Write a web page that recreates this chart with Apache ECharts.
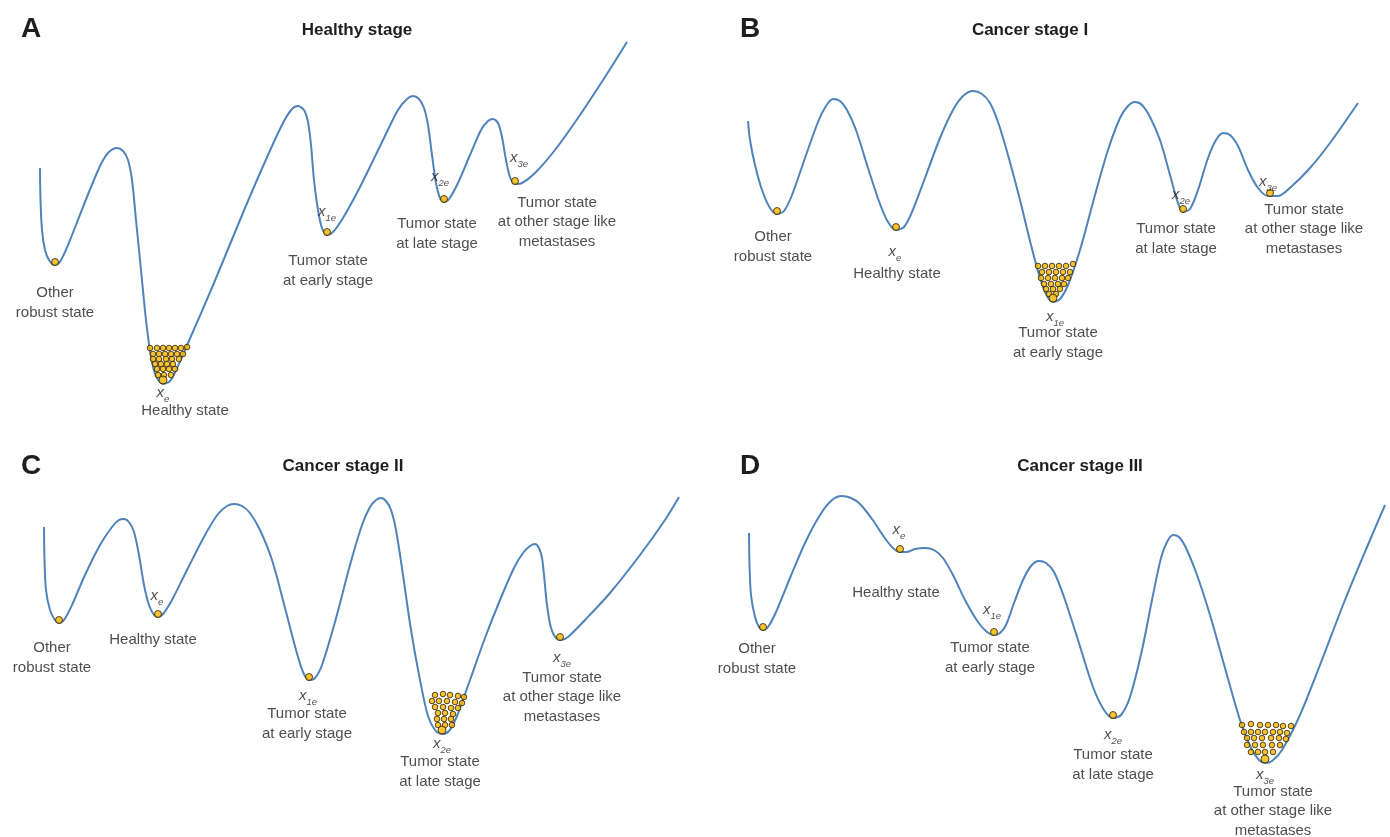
<!DOCTYPE html>
<html>
<head>
<meta charset="utf-8">
<title>Potential landscape across cancer stages</title>
<script src="https://cdn.jsdelivr.net/npm/echarts@6/dist/echarts.min.js"></script>
<style>
  html, body { margin: 0; padding: 0; background: #fff; }
  #chart { width: 1390px; height: 837px; }
</style>
</head>
<body>
<div id="chart"></div>
<script>
// Panel letters and stage titles
const panelLetters = ['A', 'B', 'C', 'D'];
const stageTitles = ['Healthy stage', 'Cancer stage I', 'Cancer stage II', 'Cancer stage III'];

// Landscape profiles per panel: [state position, depth] (depth grows downward)
const landscapeA = [[40,168],[40.5,200],[42,230],[45,250],[49,260],[54,265],[59,263],[65,252],[76,225],[89,192],[101,164],[109,152],[117,148],[123,151],[128,160],[132,180],[136,220],[141,270],[146,320],[151,357],[156,376],[163,384],[170,381],[177,368],[188,343],[214,283],[245,208],[268,155],[283,123],[292,109],[298,106],[304,110],[308,122],[311,145],[314,180],[318,210],[322,228],[327,235],[333,232],[343,218],[360,187],[384,138],[398,110],[407,99],[413,96],[419,99],[424,108],[428,125],[432,155],[436,183],[440,198],[444,202],[449,199],[458,183],[470,155],[481,130],[488,121],[493,119],[498,123],[502,137],[506,160],[510,177],[515,184],[522,183],[535,173],[555,150],[580,115],[605,77],[627,42]];
const landscapeB = [[53,121],[55,140],[60,165],[67,190],[75,208],[82,214],[89,211],[97,195],[110,158],[123,122],[131,106],[138,99],[145,101],[152,110],[161,130],[173,168],[185,204],[193,222],[201,230],[209,227],[217,212],[230,178],[245,138],[258,110],[268,96],[278,91],[287,94],[295,103],[303,122],[313,155],[325,200],[336,245],[345,278],[352,296],[358,302],[365,299],[373,285],[385,250],[400,195],[413,150],[425,118],[433,106],[440,102],[447,105],[455,117],[465,140],[475,175],[482,200],[488,212],[495,209],[503,190],[513,158],[521,140],[528,133],[535,135],[543,146],[553,170],[563,188],[573,196],[583,196],[597,186],[615,168],[635,143],[663,103]];
const landscapeC = [[44,109],[44.5,142],[46,172],[50,192],[55,202],[59,205],[64,202],[72,187],[85,157],[100,127],[112,109],[119,102],[124,101],[129,104],[134,114],[139,137],[144,167],[149,187],[154,197],[158,199],[163,196],[172,182],[188,150],[205,117],[218,96],[227,88],[234,86],[242,88],[250,95],[260,112],[272,142],[285,190],[296,232],[303,254],[309,262],[315,260],[322,247],[335,204],[350,147],[362,107],[370,89],[376,82],[381,80],[386,83],[391,92],[396,112],[403,157],[411,212],[420,262],[428,298],[435,312],[442,316],[449,313],[457,298],[470,262],[485,220],[500,182],[514,150],[523,135],[530,128],[535,126],[539,130],[542,140],[544,157],[547,187],[551,210],[556,220],[561,222],[568,219],[585,202],[610,175],[640,137],[665,102],[679,79]];
const landscapeD = [[54,115],[54.5,147],[56,177],[60,199],[64,209],[68,212],[73,209],[81,194],[95,160],[110,125],[125,97],[137,82],[147,78],[156,80],[165,86],[177,101],[189,119],[198,130],[205,134],[212,134],[220,131],[230,130],[239,132],[248,140],[258,157],[270,182],[283,204],[292,214],[299,217],[305,215],[311,207],[319,185],[328,162],[336,148],[344,143],[351,145],[359,154],[369,179],[383,222],[398,269],[409,292],[418,300],[426,297],[435,279],[447,232],[458,177],[466,140],[472,124],[478,117],[484,119],[491,130],[502,157],[515,197],[530,250],[545,302],[556,330],[564,342],[570,345],[577,343],[587,332],[605,297],[625,247],[650,182],[675,122],[690,87]];

// Single cells resting in the shallow wells
const cellsA = [[55,262],[327,232],[444,199],[515,181]];
const cellsB = [[82,211],[201,227],[488,209],[575,193]];
const cellsC = [[59,202],[158,196],[309,259],[560,219]];
const cellsD = [[68,209],[205,131],[299,214],[418,297]];

// The populated (deepest) well in each stage: lead cell at the bottom plus the crowd
const leadCell = [[163,380],[358,298],[442,312],[570,341]];
const crowdA = [[150,348],[157,348],[163,348],[169,348],[175,348],[181,348],[187,347],[153,354],[159,354],[165,354],[171,354],[177,354],[183,354],[153,359],[159,359],[166,359],[172,359],[179,359],[155,364],[161,364],[167,364],[173,364],[157,369],[163,369],[169,369],[175,369],[158,375],[164,375],[171,375]];
const crowdB = [[343,266],[350,266],[357,266],[364,266],[371,266],[378,264],[347,272],[354,272],[361,272],[368,272],[375,272],[346,278],[353,278],[360,278],[367,278],[373,278],[349,284],[356,284],[363,284],[369,284],[351,289],[358,289],[365,289],[354,294],[361,294]];
const crowdC = [[435,277],[443,276],[450,277],[458,278],[464,279],[432,283],[439,283],[447,283],[455,284],[462,285],[435,289],[443,289],[451,290],[458,290],[438,295],[445,295],[453,296],[437,301],[444,301],[451,301],[438,307],[445,307],[452,307]];
const crowdD = [[547,307],[556,306],[565,307],[573,307],[581,307],[588,308],[596,308],[549,314],[556,314],[563,314],[570,314],[578,314],[585,314],[592,315],[552,320],[559,320],[567,320],[576,320],[584,320],[591,321],[552,327],[560,327],[568,327],[577,327],[585,327],[556,334],[563,334],[570,334],[578,334]];

// State descriptions: [text, position, depth]
const statesA = [['Other\nrobust state',55,303],['Healthy state',185,411],['Tumor state\nat early stage',328,271],['Tumor state\nat late stage',437,234],['Tumor state\nat other stage like\nmetastases',557,222]];
const statesB = [['Other\nrobust state',78,247],['Healthy state',202,274],['Tumor state\nat early stage',363,343],['Tumor state\nat late stage',481,239],['Tumor state\nat other stage like\nmetastases',609,229]];
const statesC = [['Other\nrobust state',52,240],['Healthy state',153,222],['Tumor state\nat early stage',307,306],['Tumor state\nat late stage',440,354],['Tumor state\nat other stage like\nmetastases',562,279]];
const statesD = [['Other\nrobust state',62,241],['Healthy state',201,175],['Tumor state\nat early stage',295,240],['Tumor state\nat late stage',418,347],['Tumor state\nat other stage like\nmetastases',578,393]];

// Equilibrium symbols: [subscript, position, depth]
const symbolsA = [['e',163,393],['1e',327,212],['2e',440,177],['3e',519,158]];
const symbolsB = [['e',200,252],['1e',360,317],['2e',486,195],['3e',573,182]];
const symbolsC = [['e',157,178],['1e',308,278],['2e',442,326],['3e',562,240]];
const symbolsD = [['e',204,112],['1e',297,192],['2e',418,317],['3e',570,357]];

const landscapes = [landscapeA, landscapeB, landscapeC, landscapeD];
const cells = [cellsA, cellsB, cellsC, cellsD];
const crowds = [crowdA, crowdB, crowdC, crowdD];
const states = [statesA, statesB, statesC, statesD];
const symbols = [symbolsA, symbolsB, symbolsC, symbolsD];

const FONT = '"Liberation Sans", Arial, Helvetica, sans-serif';
const TEXT = '#222222';
const PANEL_W = 695, PANEL_H = 418;
const panelOrigin = [[0, 0], [695, 0], [0, 418], [695, 418]];
const letterAt = [[31, 29], [750, 29], [31, 466], [750, 466]];
const titleAt = [[357, 30], [1030, 30], [343, 466], [1080, 466]];

const chart = echarts.init(document.getElementById('chart'), null, { renderer: 'canvas' });

const grids = [], xAxes = [], yAxes = [], series = [], graphics = [];
const cellStyle = { color: '#f5b400', borderColor: '#2e2100', borderWidth: 1 };

panelOrigin.forEach(([left, top], i) => {
  grids.push({ left, top, width: PANEL_W, height: PANEL_H });
  xAxes.push({ type: 'value', gridIndex: i, min: 0, max: PANEL_W, show: false });
  yAxes.push({ type: 'value', gridIndex: i, min: 0, max: PANEL_H, inverse: true, show: false });

  series.push({
    type: 'line', xAxisIndex: i, yAxisIndex: i, data: landscapes[i],
    smooth: 0.3, symbol: 'none', silent: true, z: 2,
    lineStyle: { color: '#4f83ba', width: 2 }
  });
  series.push({
    type: 'scatter', xAxisIndex: i, yAxisIndex: i, data: crowds[i],
    symbolSize: 5.6, itemStyle: cellStyle, silent: true, z: 3
  });
  series.push({
    type: 'scatter', xAxisIndex: i, yAxisIndex: i, data: cells[i],
    symbolSize: 7, itemStyle: cellStyle, silent: true, z: 3
  });
  series.push({
    type: 'scatter', xAxisIndex: i, yAxisIndex: i, data: [leadCell[i]],
    symbolSize: 8, itemStyle: cellStyle, silent: true, z: 4
  });
  series.push({
    type: 'scatter', xAxisIndex: i, yAxisIndex: i, symbolSize: 0, silent: true, z: 5,
    data: states[i].map(([t, x, y]) => ({ value: [x, y], label: { formatter: t } })),
    label: {
      show: true, position: 'inside', color: TEXT, fontSize: 15, lineHeight: 19.5,
      fontFamily: FONT, align: 'center', verticalAlign: 'middle'
    }
  });
  series.push({
    type: 'scatter', xAxisIndex: i, yAxisIndex: i, symbolSize: 0, silent: true, z: 5,
    data: symbols[i].map(([s, x, y]) => ({ value: [x, y], label: { formatter: '{x|x}{s|' + s + '}' } })),
    label: {
      show: true, position: 'inside', align: 'center', verticalAlign: 'middle',
      rich: {
        x: { fontSize: 15, fontStyle: 'italic', color: TEXT, fontFamily: FONT, lineHeight: 16 },
        s: { fontSize: 9.5, fontStyle: 'italic', color: TEXT, fontFamily: FONT, lineHeight: 10, padding: [12, 0, 0, 0] }
      }
    }
  });

  graphics.push({
    type: 'text', x: letterAt[i][0], y: letterAt[i][1],
    style: { text: panelLetters[i], font: 'bold 28px ' + FONT, fill: '#1e1e1e', align: 'center', verticalAlign: 'middle' }
  });
  graphics.push({
    type: 'text', x: titleAt[i][0], y: titleAt[i][1],
    style: { text: stageTitles[i], font: 'bold 17px ' + FONT, fill: '#1e1e1e', align: 'center', verticalAlign: 'middle' }
  });
});

chart.setOption({
  animation: false,
  backgroundColor: '#ffffff',
  grid: grids,
  xAxis: xAxes,
  yAxis: yAxes,
  series,
  graphic: graphics
});
</script>
</body>
</html>
